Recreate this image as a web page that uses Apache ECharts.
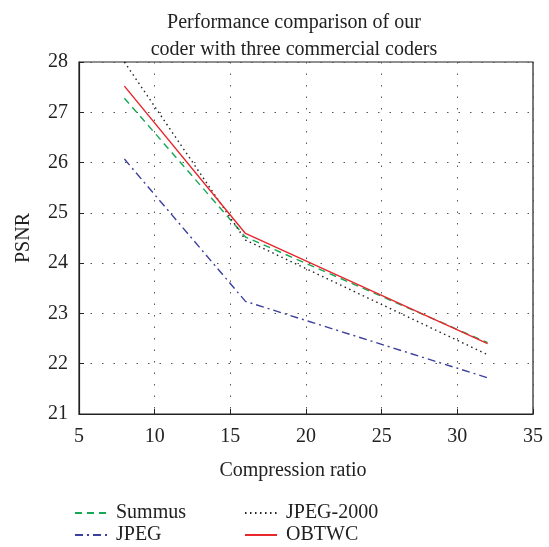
<!DOCTYPE html>
<html>
<head>
<meta charset="utf-8">
<script src="https://cdn.jsdelivr.net/npm/echarts@6/dist/echarts.min.js"></script>
<style>html,body{margin:0;padding:0;background:#fff;}#c{width:549px;height:547px;}</style>
</head>
<body>
<div id="c"></div>
<script>
var ratios = [8, 16, 32];
var summus = [27.28, 24.52, 22.42];
var jpeg = [26.07, 23.24, 21.72];
var jpeg2000 = [28.0, 24.46, 22.18];
var obtwc = [27.52, 24.59, 22.40];
var xTicks = [5, 10, 15, 20, 25, 30, 35];
var yTicks = [21, 22, 23, 24, 25, 26, 27, 28];

var FONT = '"Liberation Serif", "DejaVu Serif", serif';
function pairs(ys) { return ratios.map(function (x, i) { return [x, ys[i]]; }); }

var chart = echarts.init(document.getElementById('c'));
var gridLine = { show: true, lineStyle: { color: '#555', type: [1.5, 10], width: 1 } };
var legendText = { fontFamily: FONT, fontSize: 20, color: '#222', padding: [0, 0, 0, 4] };
function legendAt(name, left, top) {
  return {
    left: left, top: top, padding: 0, itemWidth: 32, itemHeight: 14,
    itemStyle: { opacity: 0 },
    textStyle: legendText,
    data: [name]
  };
}
chart.setOption({
  animation: false,
  backgroundColor: '#fff',
  title: {
    text: 'Performance comparison of our\ncoder with three commercial coders',
    left: 289, top: 4, textAlign: 'center',
    textStyle: { fontFamily: FONT, fontSize: 20, fontWeight: 'normal', color: '#222', lineHeight: 27 }
  },
  grid: { left: 79, right: 16, top: 62, bottom: 133, show: true, borderColor: '#222', borderWidth: 1.2, backgroundColor: 'transparent' },
  xAxis: {
    type: 'value', min: xTicks[0], max: xTicks[xTicks.length - 1], interval: 5,
    name: 'Compression ratio', nameLocation: 'middle', nameGap: 47,
    nameTextStyle: { fontFamily: FONT, fontSize: 20, color: '#222', padding: [0, 26, 0, 0] },
    axisLine: { show: true, lineStyle: { color: '#222', width: 1.2 } },
    axisTick: { show: true, inside: true, length: 5, lineStyle: { color: '#222' } },
    axisLabel: { fontFamily: FONT, fontSize: 20, color: '#222', margin: 13 },
    splitLine: gridLine
  },
  yAxis: {
    type: 'value', min: yTicks[0], max: yTicks[yTicks.length - 1], interval: 1,
    name: 'PSNR', nameLocation: 'middle', nameGap: 45, nameRotate: 90,
    nameTextStyle: { fontFamily: FONT, fontSize: 20, color: '#222' },
    axisLine: { show: true, lineStyle: { color: '#222', width: 1.2 } },
    axisTick: { show: true, inside: true, length: 5, lineStyle: { color: '#222' } },
    axisLabel: { fontFamily: FONT, fontSize: 20, color: '#222', margin: 11 },
    splitLine: gridLine
  },
  legend: [
    legendAt('Summus', 74, 503),
    legendAt('JPEG', 74, 525),
    legendAt('JPEG-2000', 244, 503),
    legendAt('OBTWC', 244, 525)
  ],
  series: [
    { name: 'Summus', type: 'line', data: pairs(summus), symbol: 'none', lineStyle: { color: '#16a857', width: 1.4, type: [7, 5] }, itemStyle: { color: '#16a857' } },
    { name: 'JPEG', type: 'line', data: pairs(jpeg), symbol: 'none', lineStyle: { color: '#3b3f9e', width: 1.4, type: [8, 4, 2, 4] }, itemStyle: { color: '#3b3f9e' } },
    { name: 'JPEG-2000', type: 'line', data: pairs(jpeg2000), symbol: 'none', lineStyle: { color: '#222', width: 1.4, type: [1.5, 3.5] }, itemStyle: { color: '#222' } },
    { name: 'OBTWC', type: 'line', data: pairs(obtwc), symbol: 'none', lineStyle: { color: '#e8262b', width: 1.4, type: 'solid' }, itemStyle: { color: '#e8262b' } }
  ]
});
</script>
</body>
</html>
